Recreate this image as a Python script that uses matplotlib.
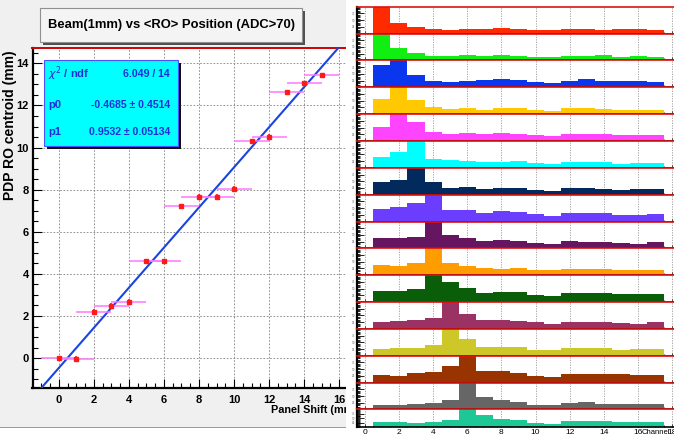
import numpy as np
import matplotlib
matplotlib.use('Agg')
import matplotlib.pyplot as plt
from matplotlib.patches import Rectangle
from matplotlib.ticker import MultipleLocator, FixedLocator

W, H = 674, 438

# fitted beam position vs panel shift
shift = [0, 1, 2, 3, 4, 5, 6, 7, 8, 9, 10, 11, 12, 13, 14, 15]
centroid = [0.0, -0.02, 2.2, 2.48, 2.68, 4.6, 4.6, 7.22, 7.66, 7.66,
            8.05, 10.3, 10.52, 12.62, 13.05, 13.44]
shift_err = [1.0] * 16
centroid_err = [0.12] * 16

chi2, ndf = 6.049, 14
p0, p0_err = -0.4685, 0.4514
p1, p1_err = 0.9532, 0.05134

# readout profiles (relative counts per channel), one per shift
channels = list(range(1, 18))
prof_00 = [100, 38, 23, 18, 14, 18, 17, 19, 18, 14, 12, 18, 18, 14, 18, 17, 15]
prof_01 = [100, 46, 28, 18, 16, 21, 16, 20, 16, 14, 11, 17, 17, 20, 14, 17, 13]
prof_02 = [83, 100, 45, 25, 19, 22, 26, 29, 26, 18, 17, 25, 29, 22, 22, 25, 19]
prof_03 = [56, 100, 51, 25, 20, 23, 17, 23, 23, 15, 13, 21, 21, 20, 17, 17, 17]
prof_04 = [53, 100, 72, 33, 25, 29, 25, 29, 26, 21, 17, 25, 25, 25, 24, 22, 21]
prof_05 = [42, 57, 100, 34, 28, 24, 20, 20, 24, 18, 14, 20, 20, 20, 16, 18, 19]
prof_06 = [47, 54, 100, 46, 24, 28, 20, 23, 26, 18, 14, 23, 24, 22, 16, 22, 20]
prof_07 = [47, 53, 70, 100, 43, 43, 32, 38, 36, 27, 22, 32, 32, 32, 26, 26, 27]
prof_08 = [37, 39, 43, 100, 49, 38, 26, 30, 26, 20, 18, 28, 25, 25, 20, 18, 24]
prof_09 = [38, 35, 45, 100, 47, 36, 26, 24, 27, 18, 18, 23, 23, 24, 20, 19, 19]
prof_10 = [42, 42, 49, 100, 75, 54, 33, 37, 36, 28, 24, 33, 32, 33, 29, 29, 30]
prof_11 = [27, 28, 33, 42, 100, 55, 35, 32, 29, 24, 19, 27, 24, 24, 22, 19, 24]
prof_12 = [25, 29, 28, 39, 100, 62, 34, 34, 32, 21, 22, 28, 29, 29, 22, 24, 26]
prof_13 = [29, 25, 37, 39, 63, 100, 45, 42, 37, 26, 22, 33, 32, 32, 32, 29, 29]
prof_14 = [18, 17, 22, 25, 34, 100, 45, 37, 28, 17, 17, 25, 28, 22, 20, 20, 20]
prof_15 = [27, 29, 24, 29, 39, 100, 71, 48, 39, 24, 19, 32, 35, 32, 26, 26, 26]

profiles = [prof_00, prof_01, prof_02, prof_03, prof_04, prof_05, prof_06, prof_07,
            prof_08, prof_09, prof_10, prof_11, prof_12, prof_13, prof_14, prof_15]
prof_colors = ['#ff2a00', '#11ee11', '#0a36ee', '#ffc800', '#ff44ff', '#00ffff',
               '#022a5c', '#6a3dff', '#661660', '#ff9d00', '#0a5e0a', '#9a3264',
               '#cdc828', '#993300', '#666666', '#1ec896']

plt.rcParams['font.family'] = ['Liberation Sans', 'DejaVu Sans']


def fig_box(x0, y0, x1, y1):
    # pixel box, origin top-left -> figure fraction rect
    return [x0 / W, 1 - y1 / H, (x1 - x0) / W, (y1 - y0) / H]


def fx(x):
    return x / W


def fy(y):
    return 1 - y / H


fig = plt.figure(figsize=(W / 100, H / 100), dpi=100, facecolor='white')

# left pad background
fig.add_artist(Rectangle((0, fy(427)), fx(346), 1 - fy(427), transform=fig.transFigure,
                         facecolor='#f0f0f0', edgecolor='none', zorder=-2))
fig.add_artist(Rectangle((0, fy(428)), fx(346), 1 / H, transform=fig.transFigure,
                         facecolor='#9a9a9a', edgecolor='none', zorder=-2))

# ---- left: centroid vs shift ----
ax = fig.add_axes(fig_box(32.5, 48, 348, 388))
ax.set_facecolor('white')
ax.set_xlim(-1.5, 16.5)
ax.set_ylim(-1.42, 14.73)

xs = np.linspace(-1.5, 16.5, 200)
ax.plot(xs, p0 + p1 * xs, color='#1a44e0', lw=1.5, zorder=3)
ax.errorbar(shift, centroid, xerr=shift_err, fmt='none', ecolor='#ff77ff',
            elinewidth=1.1, capsize=0, zorder=4)
ax.errorbar(shift, centroid, yerr=centroid_err, fmt='s', ms=3, color='#ff1a1a',
            mec='#ff1a1a', elinewidth=1.2, capsize=0, zorder=5)

ax.xaxis.set_major_locator(MultipleLocator(2))
ax.xaxis.set_minor_locator(MultipleLocator(0.5))
ax.yaxis.set_major_locator(MultipleLocator(2))
ax.yaxis.set_minor_locator(MultipleLocator(0.5))
ax.tick_params(which='both', direction='in', top=False, right=False)
ax.tick_params(which='major', length=6.5, width=0.8)
ax.tick_params(which='minor', length=3.5, width=0.8)
ax.tick_params(axis='x', pad=5)
ax.tick_params(axis='y', pad=2.5)
for lab in ax.get_xticklabels() + ax.get_yticklabels():
    lab.set_fontsize(8)
    lab.set_fontweight('bold')
ax.grid(True, which='major', color='#808080', ls=(0, (2, 2)), lw=0.6)
ax.set_axisbelow(True)
for side in ('left', 'bottom'):
    ax.spines[side].set_linewidth(1.6)
ax.spines['top'].set_color('#d00000')
ax.spines['top'].set_linewidth(1.4)
ax.spines['right'].set_visible(False)

# axis titles; the x title runs under the right-hand panel
fig.text(fx(357), fy(410), 'Panel Shift (mm)', ha='right', va='center',
         fontsize=7.8, fontweight='bold', zorder=1)
fig.text(fx(10.5), fy(50), 'PDP RO centroid (mm)', rotation=90, ha='center', va='top',
         fontsize=10, fontweight='bold')

# title box
fig.add_artist(Rectangle((fx(43), fy(45)), fx(262), fy(11) - fy(45), transform=fig.transFigure,
                         facecolor='#505050', edgecolor='none', zorder=2))
fig.add_artist(Rectangle((fx(40), fy(42)), fx(262), fy(8) - fy(42), transform=fig.transFigure,
                         facecolor='#f4f4f4', edgecolor='#909090', lw=0.8, zorder=2))
fig.text(fx(171), fy(25), 'Beam(1mm) vs <RO> Position (ADC>70)', ha='center', va='center',
         fontsize=9.4, fontweight='bold', zorder=3)

# fit statistics box
fig.add_artist(Rectangle((fx(47), fy(149)), fx(134), fy(63) - fy(149), transform=fig.transFigure,
                         facecolor='#101010', edgecolor='none', zorder=2))
fig.add_artist(Rectangle((fx(44), fy(146)), fx(134), fy(60) - fy(146), transform=fig.transFigure,
                         facecolor='#00ffff', edgecolor='#5050ff', lw=0.8, zorder=2))
stat_rows = [(r'$\chi^{2}$ / ndf', f'{chi2:.3f} / {ndf}', 74),
             ('p0', f'{p0:.4f} \u00b1 {p0_err:.4f}', 105),
             ('p1', f'{p1:.4f} \u00b1 {p1_err:.5f}', 132)]
for name, val, yy in stat_rows:
    fig.text(fx(48.5), fy(yy), name, ha='left', va='center', fontsize=8,
             fontweight='bold', color='#1f2fd8', zorder=3)
    fig.text(fx(170), fy(yy), val, ha='right', va='center', fontsize=7.6,
             fontweight='bold', color='#1f2fd8', zorder=3)

# ---- right: channel profiles ----
fig.add_artist(Rectangle((fx(346), 0), 1 - fx(346), 1, transform=fig.transFigure,
                         facecolor='white', edgecolor='none', zorder=2))

edges = np.arange(0.5, 18.5, 1.0)
pad_h = 26.85
for i, (vals, col) in enumerate(zip(profiles, prof_colors)):
    top = 6.7 + pad_h * i
    bot = 427 if i == len(profiles) - 1 else top + pad_h
    pax = fig.add_axes(fig_box(357, top, 680, bot), zorder=3)
    pax.stairs(vals, edges, fill=True, color=col, lw=0)
    pax.set_xlim(-0.45, 18.45)
    pax.set_ylim(0, 100)
    pax.xaxis.set_major_locator(MultipleLocator(2))
    pax.xaxis.set_minor_locator(MultipleLocator(0.5))
    pax.yaxis.set_major_locator(FixedLocator([25, 50, 75]))
    pax.yaxis.set_minor_locator(MultipleLocator(5))
    pax.grid(True, axis='x', which='major', color='#9a9a9a', ls=(0, (1.5, 1.5)), lw=0.6)
    pax.set_axisbelow(True)
    pax.tick_params(axis='y', which='both', direction='in', labelsize=2.2,
                    labelcolor='#666666', pad=1, width=0.6)
    pax.tick_params(axis='y', which='major', length=5)
    pax.tick_params(axis='y', which='minor', length=2.5)
    pax.tick_params(axis='x', which='both', direction='in', width=0.5)
    pax.tick_params(axis='x', which='major', length=2.5)
    pax.tick_params(axis='x', which='minor', length=1.2)
    pax.spines['left'].set_linewidth(1.6)
    pax.spines['bottom'].set_linewidth(1.2)
    pax.spines['top'].set_color('#e01010')
    pax.spines['top'].set_linewidth(1.2)
    pax.spines['right'].set_visible(False)
    if i == len(profiles) - 1:
        pax.tick_params(axis='x', labelsize=6, pad=1.5)
    else:
        pax.tick_params(axis='x', labelbottom=False)

fig.text(fx(642), fy(432), 'Channel', ha='left', va='center', fontsize=5.5, zorder=4)

fig.savefig('out.png', dpi=100, facecolor='white')
